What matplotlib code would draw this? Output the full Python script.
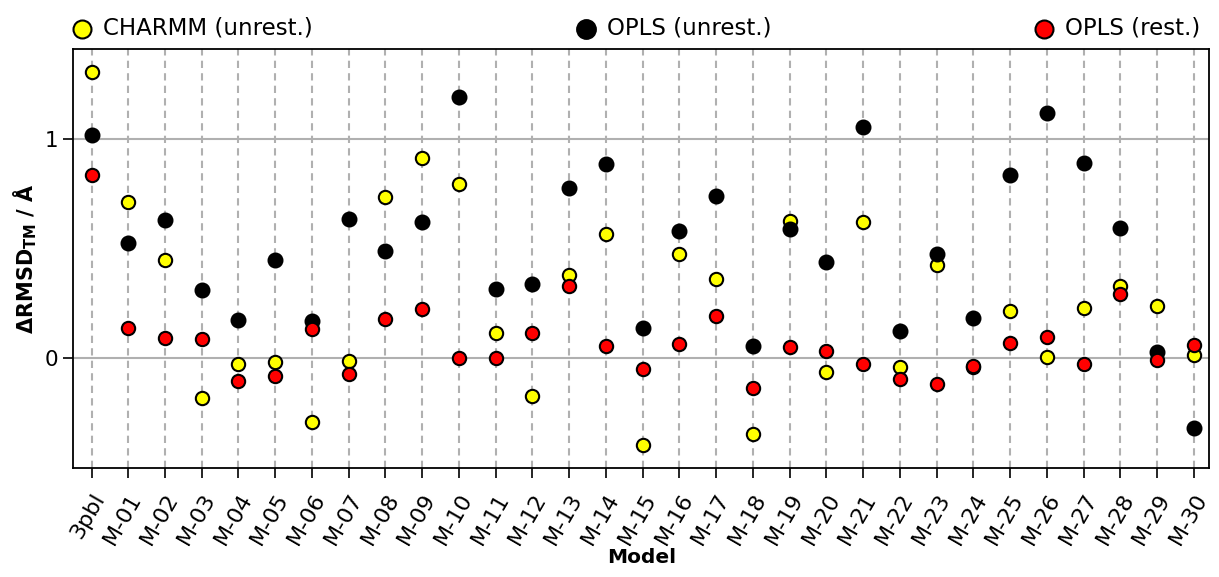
import numpy as np
import matplotlib.pyplot as plt

# Data
models = ['3pbl'] + ['M-%02d' % i for i in range(1, 31)]

charmm_unrest = [1.306, 0.712, 0.447, -0.183, -0.027, -0.018, -0.292, -0.014, 0.735, 0.913,
                 0.795, 0.114, -0.174, 0.379, 0.566, -0.397, 0.475, 0.361, -0.347, 0.625,
                 -0.064, 0.620, -0.040, 0.425, -0.040, 0.215, 0.005, 0.230, 0.329, 0.237, 0.014]
opls_unrest = [1.018, 0.525, 0.630, 0.310, 0.174, 0.447, 0.169, 0.635, 0.490, 0.620,
               1.190, 0.315, 0.338, 0.776, 0.886, 0.137, 0.580, 0.740, 0.055, 0.590,
               0.438, 1.055, 0.123, 0.475, 0.183, 0.836, 1.118, 0.890, 0.593, 0.029, -0.318]
opls_rest = [0.836, 0.137, 0.091, 0.087, -0.105, -0.082, 0.132, -0.073, 0.180, 0.224,
             0.000, 0.000, 0.114, 0.329, 0.055, -0.050, 0.064, 0.192, -0.137, 0.050,
             0.033, -0.027, -0.096, -0.115, -0.035, 0.068, 0.097, -0.027, 0.292, -0.009, 0.059]

x = np.arange(len(models))

fig, ax = plt.subplots(figsize=(12.19, 5.77), dpi=100)

ax.scatter(x, charmm_unrest, s=92, c='yellow', edgecolors='black', linewidths=1.5,
           zorder=3, label='CHARMM (unrest.)')
ax.scatter(x, opls_unrest, s=100, c='black', edgecolors='black', linewidths=1.5,
           zorder=3, label='OPLS (unrest.)')
ax.scatter(x, opls_rest, s=92, c='red', edgecolors='black', linewidths=1.5,
           zorder=3, label='OPLS (rest.)')

# grid lines
ax.set_axisbelow(True)
ax.grid(axis='x', linestyle=(0, (3.5, 2.5)), color='#b0b0b0', linewidth=1.5)
ax.grid(axis='y', linestyle='-', color='#b0b0b0', linewidth=1.5)

ax.set_xticks(x)
ax.set_xticklabels(models, rotation=60, ha='right', rotation_mode='anchor', fontsize=16)
ax.set_yticks([0, 1])
ax.tick_params(axis='y', labelsize=15.5, length=7, width=1.2)
ax.tick_params(axis='x', length=7, width=1.2, pad=9)
for sp in ax.spines.values():
    sp.set_linewidth(1.3)
ax.set_xlim(-0.5, 30.42)
ax.set_ylim(-0.5, 1.41)

ax.set_xlabel('Model', fontsize=14.5, fontweight='bold', labelpad=0)
ax.set_ylabel(r'ΔRMSD$_{\mathbf{TM}}$ / Å', fontsize=15, fontweight='bold')

ax.legend(loc='lower left', bbox_to_anchor=(-0.01, 1.0, 1.01, 0.1), mode='expand', ncol=3,
          frameon=False, fontsize=16.5, handlelength=1.0, handletextpad=0.4,
          borderpad=0.0, borderaxespad=0.4, markerscale=1.35)

plt.subplots_adjust(left=0.06, right=0.992, top=0.915, bottom=0.189)
plt.savefig('out.png', dpi=100)
